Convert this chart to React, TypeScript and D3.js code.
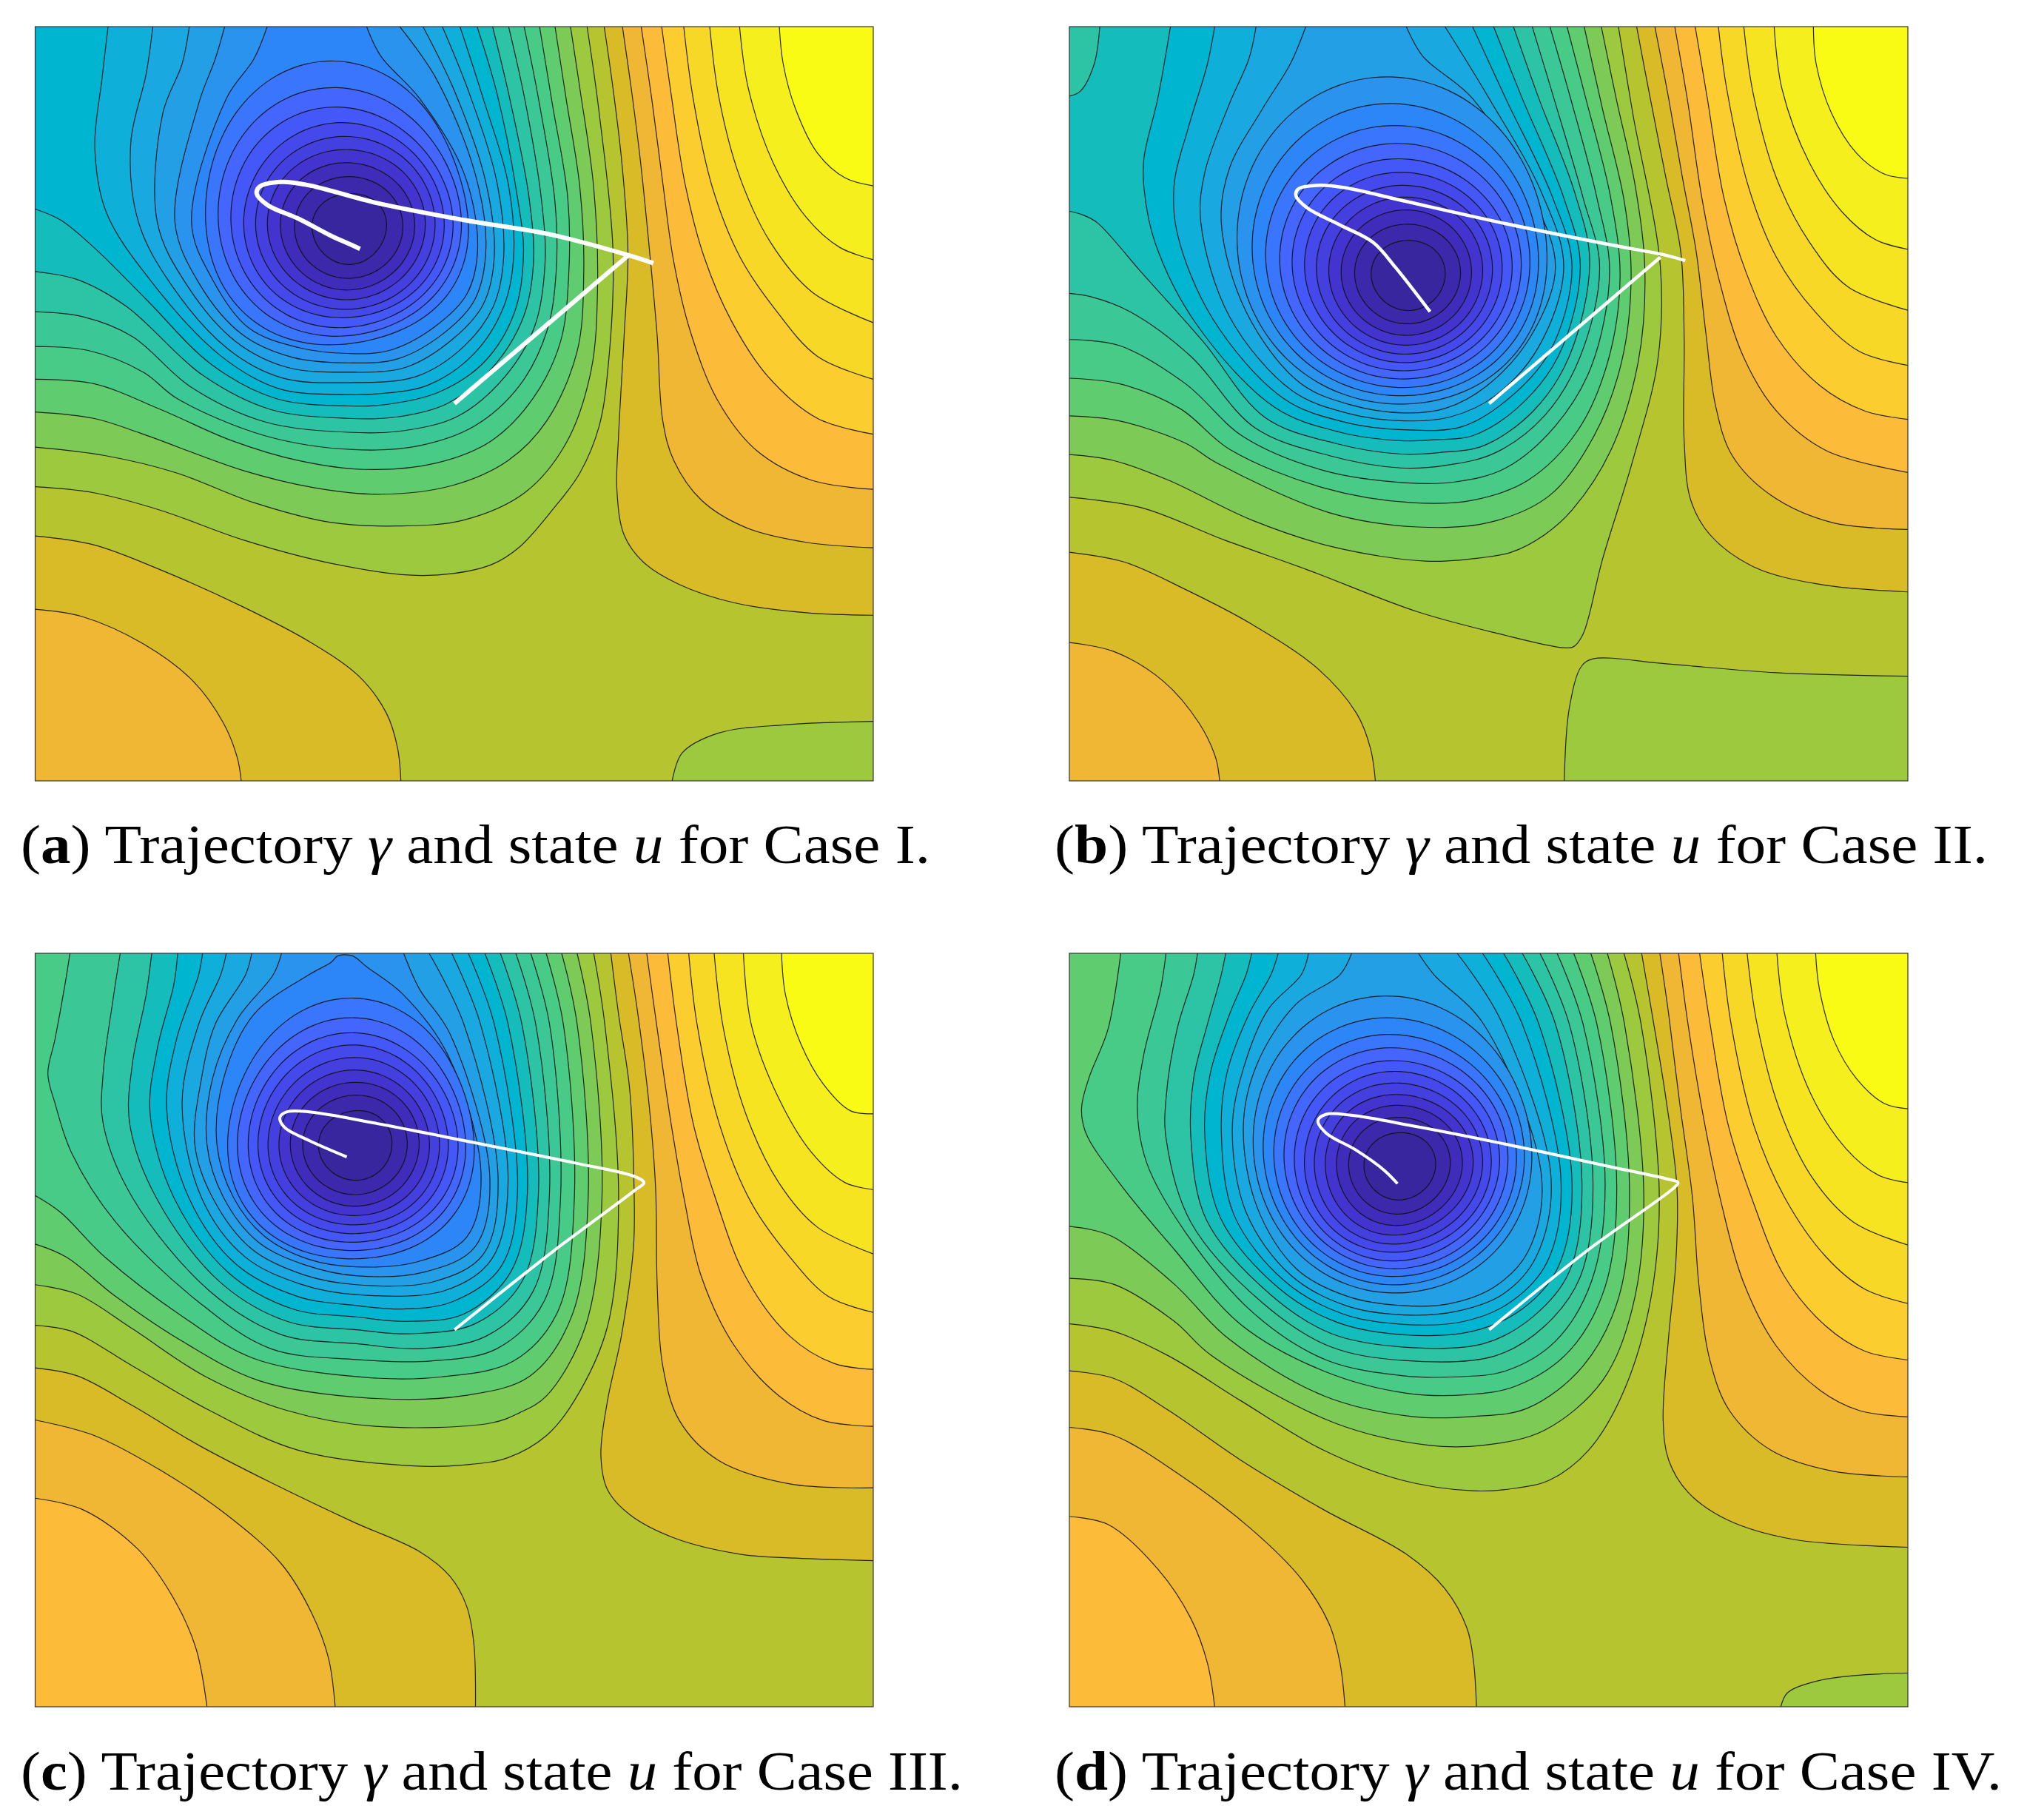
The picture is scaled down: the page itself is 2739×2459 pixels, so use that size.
import React from 'react';
import * as d3 from 'd3';

type Pt = [number, number];

// colour of each filled band, lowest level first
const bandColors = [
  '#37269d', '#3b28aa', '#3f2cbb', '#4334cf', '#4440e0', '#4549ec', '#4457f8', '#4465fe',
  '#3a75fd', '#2d86f8', '#2a93ee', '#239fe5', '#1aa8e0', '#0eb0da', '#00b5cf', '#14bcbc',
  '#2cc4a5', '#3bc896', '#47cb86', '#5fcc70', '#7dcb56', '#9dc93f', '#b6c42f', '#d9bb27',
  '#efb734', '#fdbb3a', '#fccd2f', '#f8d826', '#f5e41f', '#f5ef1d', '#f9fb15',
];

// case I contours
const aRight: Pt[][] = [
  [[1054,25],[1070,150],[1086,300],[1097,480],[1090,650],[1080,850],[1077,960],[1090,1050],[1125,1105],[1190,1150],[1290,1187],[1420,1207],[1541,1212]],
  [[1087,25],[1103,150],[1120,300],[1138,500],[1150,650],[1160,820],[1180,900],[1230,980],[1310,1035],[1420,1065],[1541,1076]],
  [[1121,25],[1140,170],[1160,340],[1180,500],[1210,640],[1260,780],[1330,880],[1430,940],[1541,958]],
  [[1158,25],[1175,160],[1200,340],[1235,490],[1285,620],[1350,730],[1440,815],[1541,847]],
  [[1198,25],[1215,170],[1250,350],[1300,490],[1360,590],[1440,690],[1541,736]],
  [[1245,25],[1262,170],[1300,330],[1355,460],[1430,560],[1541,622]],
  [[1299,25],[1315,150],[1360,300],[1420,410],[1480,470],[1541,495]],
  [[1371,25],[1378,100],[1400,190],[1440,280],[1490,330],[1541,346]],
];
const aLeft: Pt[][] = [
  [[24,1052],[130,1070],[250,1120],[400,1195],[520,1265],[610,1335],[660,1410],[680,1480],[686,1546]],
  [[24,1200],[110,1215],[220,1270],[310,1345],[365,1430],[390,1500],[397,1546]],
];
const aIsland: Pt[] = [[1177,1546],[1195,1490],[1260,1450],[1380,1433],[1541,1426]];
const aWell: Pt[][] = [
  [[1023,25],[1045,200],[1070,480],[1062,700],[1045,830],[1010,925],[960,1000],[900,1075],[850,1110],[780,1128],[700,1131],[550,1105],[400,1060],[250,1000],[130,965],[24,953]],
  [[993,25],[1010,150],[1035,350],[1042,550],[1030,720],[985,865],[910,965],[800,1020],[680,1032],[560,1025],[420,985],[280,925],[150,890],[24,873]],
  [[965,25],[985,170],[1010,350],[1017,520],[1005,680],[950,820],[880,900],[780,950],[650,968],[530,955],[400,920],[215,845],[130,815],[24,802]],
  [[937,25],[960,180],[988,370],[990,520],[975,660],[925,775],[850,860],[750,905],[620,918],[500,900],[380,860],[251,797],[130,745],[24,736]],
  [[909,25],[935,170],[965,380],[967,520],[950,640],[900,750],[820,830],[720,870],[600,878],[440,850],[281,775],[220,722],[120,678],[24,670]],
  [[881,25],[910,170],[940,370],[947,500],[928,630],[875,730],[790,810],[690,840],[590,843],[440,822],[305,751],[200,650],[110,610],[24,600]],
  [[852,25],[885,180],[918,370],[926,500],[908,610],[850,715],[770,785],[680,812],[590,815],[450,797],[326,727],[190,590],[100,535],[24,519]],
  [[824,25],[860,160],[897,370],[908,480],[892,600],[838,700],[755,762],[660,787],[590,790],[460,775],[344,707],[225,575],[130,470],[70,415],[24,393]],
  [[793,25],[835,170],[880,340],[890,490],[872,590],[818,685],[735,748],[650,765],[590,767],[465,755],[360,689],[235,540],[153,400],[132,270],[145,130],[156,25]],
  [[761,25],[810,160],[860,340],[872,490],[853,590],[800,670],[715,730],[590,743],[470,733],[373,675],[270,545],[211,419],[197,260],[225,120],[237,25]],
  [[726,25],[785,160],[840,340],[855,490],[835,585],[780,655],[695,712],[590,722],[480,712],[387,660],[298,545],[245,419],[255,200],[290,100],[303,25]],
  [[684,25],[750,130],[820,320],[840,470],[820,575],[765,642],[680,695],[590,703],[490,692],[399,646],[322,545],[277,419],[320,180],[350,90],[367,25]],
  [[624,25],[650,85],[720,170],[800,320],[825,470],[805,565],[745,632],[665,678],[590,684],[500,672],[411,633],[345,535],[307,419],[370,170],[420,90],[444,25]],
];
// ring radii, N NE E SE S SW W NW, innermost ring first
const aRings: number[][] = [
  [135,150,150,148,150,150,150,145],
  [205,212,217,210,207,215,222,215],
  [262,262,266,255,255,265,280,275],
  [315,312,308,295,294,310,332,330],
  [368,355,348,335,333,355,380,380],
  [423,395,385,370,366,400,428,435],
  [483,435,420,405,405,445,478,505],
  [560,485,453,440,438,490,528,575],
  [670,530,485,475,474,540,583,650],
];
const aLeg: Pt[] = [[783,785],[1097,487]];
const aPath: Pt[] = [[1143,502],[1095,485],[960,445],[800,415],[640,380],[520,345],[470,338],[430,348],[425,362],[445,385],[500,412],[560,447],[590,462],[612,473]];

// case II
const bRight: Pt[][] = [
  [[1047,25],[1070,160],[1100,330],[1127,480],[1133,650],[1133,860],[1145,980],[1180,1050],[1260,1115],[1380,1150],[1538,1165]],
  [[1080,25],[1105,170],[1130,330],[1155,480],[1172,640],[1190,790],[1220,890],[1290,970],[1400,1025],[1538,1039]],
  [[1116,25],[1140,180],[1165,370],[1195,530],[1240,690],[1300,800],[1390,880],[1538,924]],
  [[1153,25],[1175,170],[1205,370],[1245,520],[1300,650],[1380,750],[1460,800],[1538,817]],
  [[1195,25],[1210,150],[1250,350],[1300,490],[1370,600],[1450,680],[1538,708]],
  [[1241,25],[1258,160],[1300,330],[1360,460],[1430,550],[1538,597]],
  [[1296,25],[1310,150],[1360,300],[1420,400],[1480,455],[1538,474]],
  [[1367,25],[1372,100],[1400,200],[1445,280],[1495,322],[1538,331]],
];
const bLeft: Pt[][] = [
  [[20,1085],[120,1105],[230,1160],[350,1230],[470,1320],[540,1410],[565,1480],[574,1546]],
  [[20,1267],[100,1285],[190,1345],[255,1430],[285,1500],[292,1546]],
];
const bIsland: Pt[] = [[916,1546],[925,1400],[947,1315],[968,1300],[1100,1310],[1300,1328],[1538,1335]];
const bCorner: Pt[] = [[75,25],[65,100],[40,155],[20,165]];
const bWell: Pt[][] = [
  [[1014,25],[1040,200],[1090,510],[1085,700],[1040,900],[985,1100],[950,1250],[932,1276],[910,1277],[800,1250],[650,1205],[450,1120],[300,1060],[150,995],[20,974]],
  [[983,25],[1010,170],[1045,350],[1062,520],[1050,700],[1000,880],[930,1000],[880,1050],[820,1085],[750,1098],[665,1103],[500,1075],[350,1020],[200,940],[100,900],[20,888]],
  [[952,25],[985,190],[1025,380],[1037,530],[1020,700],[970,850],[890,970],[780,1025],[650,1034],[490,1005],[287,905],[230,865],[110,820],[20,810]],
  [[921,25],[955,170],[1000,370],[1017,530],[995,700],[940,840],[850,940],[750,980],[640,985],[480,955],[311,878],[220,795],[110,745],[20,734]],
  [[890,25],[930,180],[975,370],[998,520],[965,710],[900,830],[810,915],[720,943],[630,945],[480,920],[335,852],[230,745],[110,668],[20,656]],
  [[858,25],[900,180],[950,370],[980,510],[945,690],[880,810],[790,885],[700,910],[620,915],[490,890],[356,834],[240,690],[130,600],[60,570],[20,563]],
  [[824,25],[870,170],[935,360],[962,500],[925,690],[860,800],[770,870],[690,884],[620,887],[500,865],[374,813],[262,660],[150,520],[70,420],[45,405],[20,397]],
  [[788,25],[840,170],[915,370],[945,510],[905,690],[830,795],[750,850],[680,858],[620,860],[510,843],[392,793],[250,625],[175,460],[155,350],[155,290],[180,170],[203,25]],
  [[750,25],[810,170],[895,370],[930,510],[890,680],[810,780],[730,832],[625,838],[520,823],[408,775],[280,615],[215,440],[210,340],[235,230],[270,100],[283,25]],
  [[700,25],[780,170],[875,360],[915,510],[870,670],[790,770],[710,812],[625,820],[525,805],[423,759],[310,610],[258,420],[265,320],[310,180],[345,90],[358,25]],
  [[630,25],[660,85],[750,170],[855,360],[900,510],[855,650],[775,750],[700,795],[625,804],[530,788],[437,743],[340,600],[295,420],[310,310],[370,190],[420,100],[448,25]],
];
const bRings: number[][] = [
  [140,148,149,145,143,145,150,148],
  [207,210,212,200,198,205,218,215],
  [265,260,257,245,245,255,273,272],
  [317,310,302,285,285,298,323,325],
  [365,352,342,320,322,338,373,378],
  [418,395,382,355,357,375,421,432],
  [472,440,422,390,390,415,470,490],
  [533,490,457,425,422,455,518,550],
  [605,540,492,460,457,495,573,620],
  [692,590,527,495,490,535,624,700],
  [800,650,562,530,525,575,681,790],
];
const bLeg: Pt[] = [[780,785],[1090,490]];
const bPath: Pt[] = [[1135,497],[1100,486],[1000,465],[800,420],[620,375],[520,350],[470,345],[435,352],[430,365],[450,390],[510,425],[570,460],[610,510],[673,600]];

// case III
const cRight: Pt[][] = [
  [[1066,27],[1080,150],[1100,300],[1108,500],[1107,620],[1085,800],[1060,930],[1048,1040],[1060,1110],[1100,1160],[1180,1207],[1300,1240],[1400,1248],[1541,1253]],
  [[1098,27],[1115,150],[1135,330],[1147,500],[1150,700],[1160,860],[1190,970],[1260,1050],[1390,1098],[1541,1106]],
  [[1131,27],[1150,180],[1175,370],[1200,530],[1230,680],[1290,820],[1370,920],[1450,970],[1541,982]],
  [[1169,27],[1185,170],[1215,370],[1255,520],[1310,680],[1390,800],[1470,855],[1541,867]],
  [[1207,27],[1222,170],[1262,370],[1320,530],[1390,640],[1460,720],[1541,752]],
  [[1253,27],[1270,180],[1310,350],[1370,490],[1440,580],[1541,634]],
  [[1306,27],[1320,170],[1370,320],[1430,430],[1490,490],[1541,504]],
  [[1375,27],[1382,110],[1410,210],[1450,290],[1500,345],[1541,351]],
];
const cLeft: Pt[][] = [
  [[24,864],[100,880],[200,940],[320,1020],[450,1095],[600,1175],[720,1235],[775,1285],[805,1345],[818,1420],[821,1548]],
  [[24,969],[130,1000],[250,1070],[370,1160],[470,1260],[525,1360],[555,1450],[567,1548]],
  [[24,1127],[110,1150],[210,1230],[275,1330],[315,1430],[335,1548]],
];
const cWell: Pt[][] = [
  [[1035,27],[1055,170],[1080,520],[1060,780],[1000,930],[950,1000],[880,1045],[800,1060],[710,1062],[500,1030],[340,950],[200,860],[90,790],[24,778]],
  [[1005,27],[1030,170],[1050,520],[1020,780],[950,920],[900,955],[850,975],[640,982],[480,950],[330,880],[200,785],[100,715],[24,696]],
  [[977,27],[1005,170],[1025,520],[995,760],[920,880],[800,920],[630,925],[430,890],[290,810],[170,720],[80,640],[24,614]],
  [[949,27],[980,170],[1000,520],[970,750],[890,850],[760,882],[620,883],[420,845],[293,762],[150,640],[70,550],[24,516]],
  [[921,27],[955,170],[975,520],[945,730],[860,825],[740,850],[605,847],[450,825],[320,731],[170,570],[90,430],[60,330],[47,270],[60,200],[78,90],[87,27]],
  [[894,27],[930,170],[955,510],[925,710],[840,800],[720,825],[605,815],[470,797],[340,709],[200,520],[147,370],[147,270],[165,120],[178,27]],
  [[866,27],[905,170],[935,510],[905,690],[820,775],[705,795],[605,787],[480,770],[357,689],[243,520],[195,370],[200,250],[225,110],[235,27]],
  [[838,27],[880,170],[915,510],[885,670],[800,755],[695,770],[605,761],[490,745],[373,671],[275,520],[232,350],[245,220],[275,90],[282,27]],
  [[808,27],[855,170],[897,510],[867,660],[780,730],[690,745],[605,738],[500,720],[388,655],[302,520],[262,340],[280,200],[320,70],[327,27]],
  [[778,27],[830,170],[880,490],[850,645],[765,708],[605,716],[505,695],[403,639],[325,520],[290,330],[320,170],[360,70],[370,27]],
  [[737,27],[800,170],[862,485],[835,635],[745,690],[605,696],[510,676],[416,624],[345,520],[313,413],[325,280],[350,170],[405,70],[416,27]],
  [[691,27],[720,100],[775,190],[847,480],[820,620],[730,670],[605,678],[515,657],[428,610],[365,520],[335,413],[345,280],[390,160],[455,70],[470,27]],
];
const cBump: Pt[] = [[598,32],[625,55],[690,110],[770,230],[831,470],[805,600],[715,650],[605,660],[520,645],[439,598],[383,520],[353,413],[365,280],[420,150],[520,70],[560,45],[572,32]];
const cRings: number[][] = [
  [135,148,148,148,145,148,148,140],
  [198,208,210,208,203,210,212,205],
  [250,258,258,255,250,258,262,258],
  [300,300,300,298,288,302,308,305],
  [350,345,340,338,325,345,352,352],
  [400,385,375,375,360,385,392,400],
  [450,425,415,412,395,425,432,445],
  [510,470,445,450,428,465,475,495],
  [590,520,480,490,462,505,515,550],
];
const cPath: Pt[] = [[783,787],[960,630],[1110,505],[1126,490],[1110,478],[1000,450],[800,405],[640,370],[520,347],[480,347],[467,358],[475,378],[520,405],[588,438]];

// case IV
const dRight: Pt[][] = [
  [[1056,27],[1075,150],[1100,320],[1120,500],[1118,650],[1105,800],[1095,970],[1105,1050],[1140,1115],[1210,1170],[1330,1210],[1538,1226]],
  [[1089,27],[1105,150],[1125,330],[1148,520],[1160,700],[1180,850],[1215,950],[1290,1030],[1400,1072],[1538,1084]],
  [[1123,27],[1140,170],[1170,370],[1200,530],[1240,690],[1300,820],[1380,910],[1450,950],[1538,963]],
  [[1161,27],[1180,170],[1212,370],[1255,520],[1315,680],[1390,780],[1460,830],[1538,848]],
  [[1202,27],[1218,170],[1258,370],[1315,520],[1390,640],[1460,705],[1538,734]],
  [[1247,27],[1265,170],[1305,340],[1365,480],[1440,570],[1538,616]],
  [[1301,27],[1315,150],[1362,310],[1425,420],[1485,475],[1538,490]],
  [[1371,27],[1378,100],[1405,205],[1445,280],[1495,330],[1538,341]],
];
const dLeft: Pt[][] = [
  [[20,870],[100,885],[200,950],[330,1050],[480,1150],[630,1240],[700,1310],[740,1390],[752,1460],[757,1548]],
  [[20,984],[100,1000],[220,1080],[350,1190],[440,1290],[490,1380],[510,1460],[519,1548]],
  [[20,1164],[90,1180],[180,1270],[240,1370],[270,1460],[283,1548]],
];
const dIsland: Pt[] = [[1308,1548],[1320,1520],[1370,1497],[1440,1485],[1538,1480]];
const dWell: Pt[][] = [
  [[1024,27],[1055,170],[1088,520],[1070,740],[1020,920],[960,1030],[890,1090],[820,1108],[750,1112],[620,1090],[480,1030],[330,930],[200,840],[100,790],[20,775]],
  [[994,27],[1025,170],[1060,520],[1040,740],[985,890],[880,990],[770,1020],[670,1020],[500,975],[276,838],[210,770],[100,695],[20,683]],
  [[964,27],[1000,170],[1034,500],[1015,720],[950,860],[850,945],[750,962],[640,962],[480,920],[307,804],[210,695],[100,600],[60,585],[20,578]],
  [[933,27],[975,170],[1011,500],[990,700],[925,830],[830,900],[740,918],[630,915],[480,870],[331,777],[210,625],[110,490],[50,390],[42,340],[55,280],[90,180],[113,27]],
  [[903,27],[950,170],[990,495],[965,690],[900,810],[810,870],[720,882],[625,880],[485,848],[353,753],[230,590],[160,450],[143,340],[155,230],[185,100],[195,27]],
  [[872,27],[925,170],[968,490],[945,680],[880,780],[790,840],[625,849],[490,820],[370,733],[240,570],[195,400],[195,320],[215,180],[245,70],[252,27]],
  [[840,27],[900,170],[948,490],[925,670],[860,760],[770,815],[625,822],[495,795],[385,717],[268,565],[240,400],[245,280],[270,170],[295,70],[303,27]],
  [[806,27],[870,170],[930,490],[905,660],[840,745],[750,790],[625,797],[505,772],[398,702],[293,560],[265,390],[275,270],[310,150],[340,70],[350,27]],
  [[768,27],[840,170],[910,485],[885,650],[820,730],[735,770],[625,776],[515,755],[410,689],[318,555],[295,385],[305,270],[345,150],[385,70],[398,27]],
  [[722,27],[800,160],[892,480],[865,640],[805,715],[720,750],[625,757],[520,738],[421,677],[340,550],[315,380],[335,260],[380,140],[440,70],[453,27]],
  [[652,27],[680,70],[770,170],[875,480],[850,630],[790,700],[705,735],[622,738],[525,720],[432,665],[360,540],[335,375],[360,250],[430,130],[510,70],[531,27]],
];
const dRings: number[][] = [
  [133,145,146,140,138,142,143,140],
  [195,205,205,195,195,202,205,205],
  [245,252,255,240,242,250,255,255],
  [288,295,298,278,280,295,300,302],
  [335,335,337,315,317,335,345,348],
  [382,375,372,350,350,372,385,392],
  [425,415,405,382,385,405,425,440],
  [478,455,440,415,418,435,467,490],
  [532,495,475,448,450,470,508,540],
  [600,540,508,480,485,502,550,600],
  [690,590,540,515,520,535,590,665],
];
const dPath: Pt[] = [[780,787],[960,625],[1115,500],[1122,490],[1100,482],[1000,458],[800,410],[640,375],[530,354],[485,352],[470,365],[485,390],[540,425],[590,465],[614,492]];

const PLATEAU = 22;
const rayAngles = d3.range(8).map(i => (i * Math.PI) / 4);
const ringAngles = d3.range(72).map(i => (i * Math.PI) / 36);

const panels = [
  { id: 'a', caseName: 'I', x: [47.5, 1180], y: [36, 1055], dx: [24, 1541], dy: [25, 1546], crop: [272, 107], centre: [600, 600],
    right: aRight, left: aLeft, island: aIsland, corner: null, well: aWell, bump: null, rings: aRings, leg: aLeg, path: aPath, pathWidth: 6,
    capX: [28, 1257], capY: 1166 },
  { id: 'b', caseName: 'II', x: [1445, 2578], y: [36, 1055], dx: [20, 1538], dy: [25, 1546], crop: [1702, 170], centre: [603, 605],
    right: bRight, left: bLeft, island: bIsland, corner: bCorner, well: bWell, bump: null, rings: bRings, leg: bLeg, path: bPath, pathWidth: 4.5,
    capX: [1425, 2686], capY: 1166 },
  { id: 'c', caseName: 'III', x: [47.5, 1180], y: [1288, 2306], dx: [24, 1541], dy: [27, 1548], crop: [280, 1346], centre: [600, 600],
    right: cRight, left: cLeft, island: null, corner: null, well: cWell, bump: cBump, rings: cRings, leg: null, path: cPath, pathWidth: 4,
    capX: [28, 1301], capY: 2418 },
  { id: 'd', caseName: 'IV', x: [1445, 2578], y: [1288, 2306], dx: [20, 1538], dy: [27, 1548], crop: [1691, 1375], centre: [600, 600],
    right: dRight, left: dLeft, island: dIsland, corner: null, well: dWell, bump: null, rings: dRings, leg: null, path: dPath, pathWidth: 4,
    capX: [1425, 2705], capY: 2418 },
];

const serif = '"Liberation Serif", serif';

// round radius as a function of angle, so that the 8 readings give a smooth ring
function ringRadius(radii: number[], t: number) {
  let r = d3.mean(radii) as number;
  for (let k = 1; k <= 3; k++) {
    const ak = d3.sum(radii, (v, i) => v * Math.cos(k * rayAngles[i])) / 4;
    const bk = d3.sum(radii, (v, i) => v * Math.sin(k * rayAngles[i])) / 4;
    r += ak * Math.cos(k * t) + bk * Math.sin(k * t);
  }
  return r;
}

function Panel({ p }: { p: any }) {
  const sx = d3.scaleLinear().domain(p.dx).range(p.x);
  const sy = d3.scaleLinear().domain(p.dy).range(p.y);
  const zx = d3.scaleLinear().domain([0, 1200]).range([p.crop[0], p.crop[0] + 400]);
  const zy = d3.scaleLinear().domain([0, 1200]).range([p.crop[1], p.crop[1] + 400]);

  const open = d3.line<Pt>().x(d => sx(d[0])).y(d => sy(d[1])).curve(d3.curveCatmullRom.alpha(0.5));
  const closed = d3.line<Pt>().x(d => sx(d[0])).y(d => sy(d[1])).curve(d3.curveCatmullRomClosed.alpha(0.5));
  const ring = d3.line<Pt>().x(d => d[0]).y(d => d[1]).curve(d3.curveCatmullRomClosed.alpha(0.5));

  const [x0, x1] = p.x;
  const [y0, y1] = p.y;
  const layers: { d: string; fill: string; key: string; extra?: string }[] = [];

  const addOpen = (pts: Pt[], band: number, close: string, key: string) => {
    const d = open(pts) as string;
    layers.push({ d, extra: close + 'Z', fill: bandColors[band], key });
  };

  p.right.forEach((c: Pt[], i: number) => addOpen(c, PLATEAU + 1 + i, `L${x1},${y0}`, `r${i}`));
  p.left.forEach((c: Pt[], i: number) => addOpen(c, PLATEAU + 1 + i, `L${x0},${y1}`, `l${i}`));
  if (p.island) addOpen(p.island, PLATEAU - 1, `L${x1},${y1}`, 'isl');
  p.well.forEach((c: Pt[], i: number) => {
    const last = c[c.length - 1];
    const toLeft = last[0] === p.dx[0];
    addOpen(c, PLATEAU - 1 - i, toLeft ? `L${x0},${y0}` : '', `w${i}`);
  });
  if (p.corner) addOpen(p.corner, 16, `L${x0},${y0}`, 'corner');
  if (p.bump) layers.push({ d: closed(p.bump) as string, fill: bandColors[p.rings.length], key: 'bump' });

  const ringPaths = p.rings.map((radii: number[], i: number) => {
    const pts = ringAngles.map(t => {
      const r = ringRadius(radii, t);
      return [zx(p.centre[0] + r * Math.sin(t)), zy(p.centre[1] - r * Math.cos(t))];
    }) as Pt[];
    return { d: ring(pts) as string, fill: bandColors[i], key: `ring${i}` };
  });
  ringPaths.reverse().forEach((r: any) => layers.push(r));

  const clipId = `clip-${p.id}`;
  return (
    <g>
      <clipPath id={clipId}>
        <rect x={x0} y={y0} width={x1 - x0} height={y1 - y0} />
      </clipPath>
      <g clipPath={`url(#${clipId})`}>
        <rect x={x0} y={y0} width={x1 - x0} height={y1 - y0} fill={bandColors[PLATEAU]} />
        {layers.map(l => (
          <g key={l.key}>
            <path d={l.d + (l.extra || '')} fill={l.fill} stroke="none" />
            <path d={l.d} fill="none" stroke="#111" strokeOpacity={0.9} strokeWidth={1.2} />
          </g>
        ))}
        {p.leg && <path d={d3.line()(p.leg.map((d: Pt) => [sx(d[0]), sy(d[1])])) as string} fill="none" stroke="#fff" strokeWidth={p.pathWidth} />}
        <path d={open(p.path) as string} fill="none" stroke="#fff" strokeWidth={p.pathWidth} />
      </g>
      <rect x={x0} y={y0} width={x1 - x0} height={y1 - y0} fill="none" stroke="#333" strokeWidth={1.2} />
      <text x={p.capX[0]} y={p.capY} fontFamily={serif} fontSize={74} fill="#000"
        textLength={p.capX[1] - p.capX[0]} lengthAdjust="spacingAndGlyphs">
        (<tspan fontWeight="bold">{p.id}</tspan>) Trajectory <tspan fontStyle="italic">γ</tspan> and state{' '}
        <tspan fontStyle="italic">u</tspan> for Case {p.caseName}.
      </text>
    </g>
  );
}

export default function App() {
  return (
    <svg width={2739} height={2459} viewBox="0 0 2739 2459" style={{ position: 'absolute', left: 0, top: 0, display: 'block', background: '#fff' }}>
      {panels.map(p => <Panel key={p.id} p={p} />)}
    </svg>
  );
}
